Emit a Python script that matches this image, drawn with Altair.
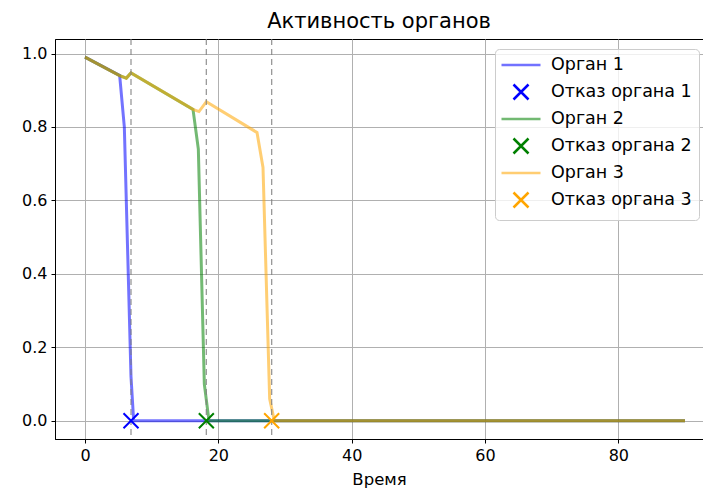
import altair as alt
import pandas as pd

# ---- data ----
organ_labels = ["Орган 1", "Орган 2", "Орган 3"]
fail_labels = ["Отказ органа 1", "Отказ органа 2", "Отказ органа 3"]

t1 = [0, 5.2, 5.9, 6.9, 7.3, 90]
v1 = [0.99, 0.94, 0.80, 0.12, 0.0, 0.0]

t2 = [0, 5.2, 6.2, 6.9, 16.2, 17.0, 17.9, 18.6, 90]
v2 = [0.99, 0.94, 0.933, 0.947, 0.848, 0.74, 0.10, 0.0, 0.0]

t3 = [0, 5.2, 6.2, 6.9, 16.2, 17.1, 18.2, 25.8, 26.7, 27.7, 28.4, 90]
v3 = [0.99, 0.94, 0.933, 0.947, 0.848, 0.842, 0.869, 0.785, 0.69, 0.06, 0.0, 0.0]

fail_times = [6.9, 18.2, 28.0]
fail_values = [0.0, 0.0, 0.0]

x_ticks = [0, 20, 40, 60, 80]
y_ticks = [0.0, 0.2, 0.4, 0.6, 0.8, 1.0]

# ---- styling ----
legend_domain = [organ_labels[0], fail_labels[0], organ_labels[1], fail_labels[1], organ_labels[2], fail_labels[2]]
legend_colors = ["#0000ff", "#0000ff", "#008000", "#008000", "#ffa500", "#ffa500"]
legend_opac = [0.55, 1.0, 0.55, 1.0, 0.55, 1.0]
LINE = "M-2.6,0L2.6,0"
XSYM = "M-1,-1L1,1M-1,1L1,-1"
legend_shapes = [LINE, XSYM, LINE, XSYM, LINE, XSYM]

rows = []
for lab, ts, vs in zip(organ_labels, [t1, t2, t3], [v1, v2, v3]):
    for i, (t, v) in enumerate(zip(ts, vs)):
        rows.append({"t": t, "v": v, "label": lab, "i": i})
lines_df = pd.DataFrame(rows)

fail_df = pd.DataFrame({"t": fail_times, "v": fail_values, "label": fail_labels})

FONT = "DejaVu Sans"

xscale = alt.Scale(domain=[-4.5, 92.7], nice=False, zero=False)
yscale = alt.Scale(domain=[-0.0495, 1.0395], nice=False, zero=False)

leg = alt.Legend(
    title=None, orient="none", legendX=440, legendY=10, padding=7,
    rowPadding=5, symbolOffset=10, labelOffset=21, symbolSize=225, symbolStrokeWidth=2.5,
    labelFontSize=17.5, labelFont=FONT, labelColor="#000000",
    fillColor="rgba(255,255,255,0.8)", strokeColor="#cccccc", cornerRadius=4,
)

color_enc = alt.Color("label:N", scale=alt.Scale(domain=legend_domain, range=legend_colors), legend=leg)
opac_enc = alt.Opacity("label:N", scale=alt.Scale(type="ordinal", domain=legend_domain, range=legend_opac), legend=leg)

x_enc = alt.X("t:Q", scale=xscale,
              axis=alt.Axis(values=x_ticks, title="Время", format="d"))
y_enc = alt.Y("v:Q", scale=yscale,
              axis=alt.Axis(values=y_ticks, title=None, format=".1f"))

lines = alt.Chart(lines_df).mark_line(strokeWidth=3).encode(
    x=x_enc, y=y_enc, color=color_enc, opacity=opac_enc, order="i:Q"
)

rules = alt.Chart(fail_df).mark_rule(
    color="#808080", strokeDash=[6, 4], strokeWidth=1.3, opacity=0.8
).encode(x=alt.X("t:Q", scale=xscale))

points = alt.Chart(fail_df).mark_point(filled=False, strokeWidth=2, size=225).encode(
    x=alt.X("t:Q", scale=xscale),
    y=alt.Y("v:Q", scale=yscale),
    color=color_enc,
    opacity=opac_enc,
    shape=alt.Shape("label:N", scale=alt.Scale(domain=legend_domain, range=legend_shapes), legend=leg),
)

chart = alt.layer(lines, rules, points).properties(
    width=648, height=400,
    title=alt.TitleParams("Активность органов", fontSize=21, font=FONT, fontWeight="normal", color="#000000", offset=6),
    padding={"left": 13, "top": 3, "right": 0, "bottom": 0},
).configure_view(
    stroke="#000000", strokeWidth=1
).configure_axis(
    grid=True, gridColor="#b0b0b0", gridWidth=1,
    domainColor="#000000", domainWidth=1,
    tickColor="#000000", tickSize=4, tickWidth=1,
    labelFontSize=16, labelFont=FONT, labelColor="#000000", labelPadding=4,
    titleFontSize=16.5, titleFont=FONT, titleFontWeight="normal", titleColor="#000000", titlePadding=8,
)

chart.save("out.html", embed_options={"renderer": "svg", "actions": False})
